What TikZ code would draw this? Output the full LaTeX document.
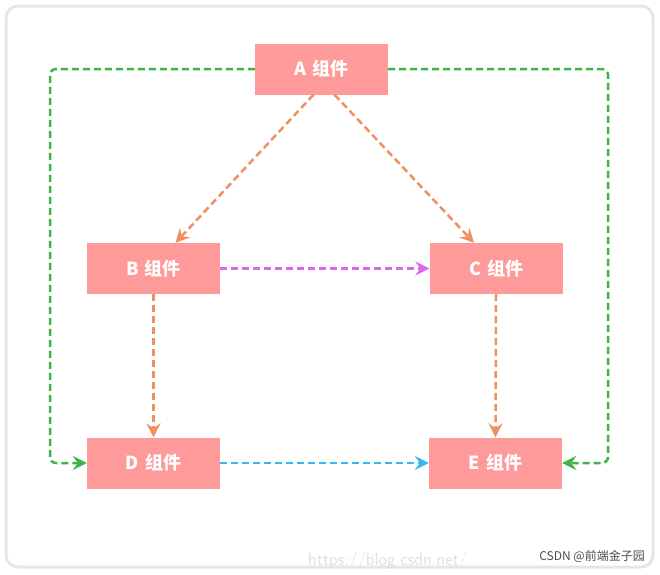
\documentclass[tikz,border=0pt]{standalone}
\usepackage{fontspec}
\newfontfamily\cjk{Noto Sans CJK SC}
\usetikzlibrary{arrows.meta}
\definecolor{boxfill}{HTML}{FF9A9A}
\definecolor{orangeln}{HTML}{EE9060}
\definecolor{greenln}{HTML}{3DB34A}
\definecolor{violetln}{HTML}{DD66EE}
\definecolor{cyanln}{HTML}{33BBEE}
\definecolor{frame}{HTML}{E6E6E6}
\tikzset{
  comp/.style={draw=none, fill=boxfill, minimum width=133pt, minimum height=51pt,
    inner sep=0pt, text=white, font=\cjk\bfseries\fontsize{18}{18}\selectfont},
  conn/.style={line width=2.5pt, dash pattern=on 7pt off 4pt,
    -{Stealth[length=14pt,width=14pt,inset=5pt]}},
}
\begin{document}
\begin{tikzpicture}[x=1pt,y=-1pt]
\useasboundingbox (0,0) rectangle (660,574);
\draw[frame, line width=3pt, rounded corners=12pt] (6,6) rectangle (653,567);
\node[comp] (A) at (321.5,69) {A\,\,组件};
\node[comp] (B) at (153.5,268.5) {B\,\,组件};
\node[comp] (C) at (496,268.5) {C\,\,组件};
\node[comp] (D) at (153.5,463) {D\,\,组件};
\node[comp] (E) at (495.5,463) {E\,\,组件};
\coordinate (ab) at ([xshift=-8pt]A.south);
\coordinate (ac) at ([xshift=13pt]A.south);
\coordinate (bt) at ([xshift=22pt]B.north);
\coordinate (ct) at ([xshift=-22pt]C.north);
\draw[conn, orangeln] (ab) -- (bt);
\draw[conn, orangeln] (ac) -- (ct);
\draw[conn, orangeln] (B.south) -- (D.north);
\draw[conn, orangeln] (C.south) -- (E.north);
\draw[conn, violetln] (B.east) -- (C.west);
\draw[conn, cyanln] (D.east) -- (E.west);
\draw[conn, greenln, rounded corners=6pt] (A.west) -| (50,463) -- (D.west);
\draw[conn, greenln, rounded corners=6pt] (A.east) -| (608,463) -- (E.east);
\node[anchor=west, text=black!12, font=\sffamily\fontsize{18}{18}\selectfont, inner sep=0pt] (wm) at (308,561) {https://blog.csdn.net/};
\node[anchor=east, text=black!70, font=\cjk\fontsize{12}{12}\selectfont, inner sep=0pt] (wm2) at (645,556) {CSDN @前端金子园};
\end{tikzpicture}
\end{document}
